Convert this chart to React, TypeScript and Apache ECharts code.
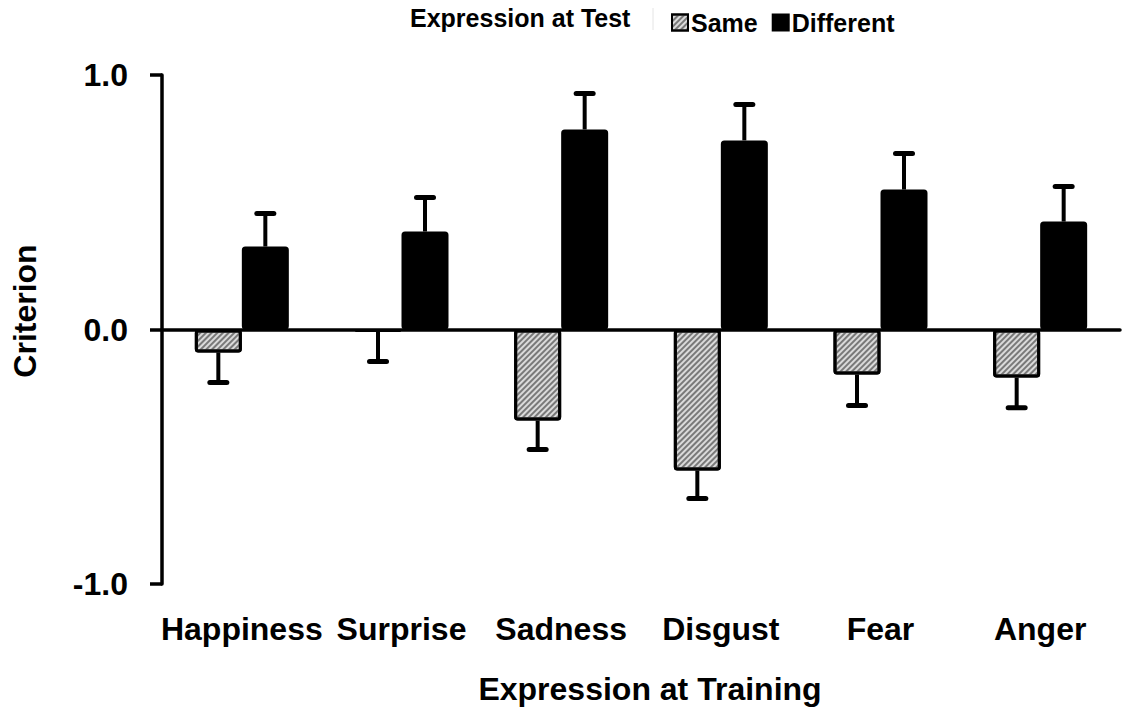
import React, { useEffect, useRef } from "react";
import * as echarts from "echarts";

const categories = ["Happiness", "Surprise", "Sadness", "Disgust", "Fear", "Anger"];
const sameValues = [-0.09, -0.008, -0.358, -0.554, -0.177, -0.189];
const sameErrors = [0.118, 0.118, 0.114, 0.11, 0.122, 0.118];
const diffValues = [0.326, 0.385, 0.786, 0.743, 0.55, 0.424];
const diffErrors = [0.13, 0.134, 0.141, 0.141, 0.142, 0.138];
const yTicks = [-1, 0, 1];

const FONT = "'Liberation Sans', Arial, Helvetica, sans-serif";

function errSeries(name: string, values: number[], errs: number[], offset: number) {
  return {
    type: "custom",
    name: name + "-err",
    xAxisIndex: 0,
    yAxisIndex: 0,
    z: 5,
    silent: true,
    data: values.map((v, i) => [i, v, errs[i]]),
    renderItem: (params: any, api: any) => {
      const idx = api.value(0);
      const v = api.value(1);
      const e = api.value(2);
      const sign = v < 0 ? -1 : 1;
      const p0 = api.coord([idx, v]);
      const p1 = api.coord([idx, v + sign * e]);
      const x = p0[0] + offset;
      return {
        type: "group",
        children: [
          {
            type: "line",
            shape: { x1: x, y1: p0[1], x2: x, y2: p1[1] },
            style: { stroke: "#000", lineWidth: 4 },
          },
          {
            type: "line",
            shape: { x1: x - 8.5, y1: p1[1], x2: x + 8.5, y2: p1[1] },
            style: { stroke: "#000", lineWidth: 5, lineCap: "round" },
          },
        ],
      };
    },
  };
}

export default function App() {
  const ref = useRef<HTMLDivElement>(null);
  useEffect(() => {
    document.body.style.margin = "0";
    if (!ref.current) return;
    const chart = echarts.init(ref.current, null, { renderer: "svg" });
    const hatch = {
      symbol: "rect",
      symbolSize: 1,
      color: "rgba(80,80,80,0.7)",
      dashArrayX: [1, 0],
      dashArrayY: [1.3, 2],
      rotation: -Math.PI / 4,
    };
    chart.setOption({
      animation: false,
      backgroundColor: "#fff",
      textStyle: { fontFamily: FONT },
      grid: { left: 162, right: 10, top: 75, bottom: 131, containLabel: false },
      legend: {
        data: ["Same", "Different"],
        left: 666,
        top: 5,
        icon: "rect",
        itemWidth: 16,
        itemHeight: 16,
        itemGap: 14,
        selectedMode: false,
        itemStyle: { borderWidth: 2, borderColor: "#000" },
        textStyle: { fontFamily: FONT, fontSize: 25, fontWeight: "bold", color: "#000", padding: [0, 0, 0, -2] },
      },
      graphic: [
        {
          type: "text",
          x: 410,
          y: 18,
          style: {
            text: "Expression at Test",
            fontFamily: FONT,
            fontSize: 25,
            fontWeight: "bold",
            fill: "#000",
            textAlign: "left",
            textVerticalAlign: "middle",
          },
        },
        {
          type: "line",
          shape: { x1: 653, y1: 8, x2: 653, y2: 30 },
          style: { stroke: "#e4e4e4", lineWidth: 1 },
        },
        {
          type: "text",
          x: 25,
          y: 311,
          rotation: Math.PI / 2,
          style: {
            text: "Criterion",
            fontFamily: FONT,
            fontSize: 32,
            fontWeight: "bold",
            fill: "#000",
            textAlign: "center",
            textVerticalAlign: "middle",
          },
        },
        {
          type: "text",
          x: 650,
          y: 689,
          style: {
            text: "Expression at Training",
            fontFamily: FONT,
            fontSize: 32,
            fontWeight: "bold",
            fill: "#000",
            textAlign: "center",
            textVerticalAlign: "middle",
          },
        },
      ],
      xAxis: [
        {
          type: "category",
          data: categories,
          axisLine: { show: true, onZero: true, lineStyle: { color: "#000", width: 3.5 } },
          axisTick: { show: false },
          axisLabel: { show: false },
          splitLine: { show: false },
        },
        {
          type: "category",
          data: categories,
          position: "bottom",
          axisLine: { show: false },
          axisTick: { show: false },
          splitLine: { show: false },
          axisLabel: {
            show: true,
            margin: 29,
            fontFamily: FONT,
            fontSize: 32,
            fontWeight: "bold",
            color: "#000",
            interval: 0,
          },
        },
      ],
      yAxis: {
        type: "value",
        min: yTicks[0],
        max: yTicks[yTicks.length - 1],
        interval: 1,
        axisLine: { show: true, lineStyle: { color: "#000", width: 3.5 } },
        axisTick: { show: true, inside: false, length: 12, lineStyle: { color: "#000", width: 3.5 } },
        splitLine: { show: false },
        axisLabel: {
          margin: 34,
          fontFamily: FONT,
          fontSize: 32,
          fontWeight: "bold",
          color: "#000",
          formatter: (v: number) => v.toFixed(1),
        },
      },
      series: [
        {
          type: "bar",
          name: "Same",
          xAxisIndex: 0,
          data: sameValues,
          barWidth: 47,
          barGap: "0%",
          itemStyle: {
            color: "#dadada",
            borderColor: "#000",
            borderWidth: 3,
            borderRadius: 2,
            decal: hatch,
          },
        },
        {
          type: "bar",
          name: "Different",
          xAxisIndex: 0,
          data: diffValues,
          barWidth: 47,
          barGap: "0%",
          itemStyle: { color: "#000", borderColor: "#000", borderWidth: 3, borderRadius: 2 },
        },
        errSeries("Same", sameValues, sameErrors, -23.5),
        errSeries("Different", diffValues, diffErrors, 23.5),
      ],
    });
    return () => chart.dispose();
  }, []);
  return <div ref={ref} style={{ width: 1130, height: 715 }} />;
}
